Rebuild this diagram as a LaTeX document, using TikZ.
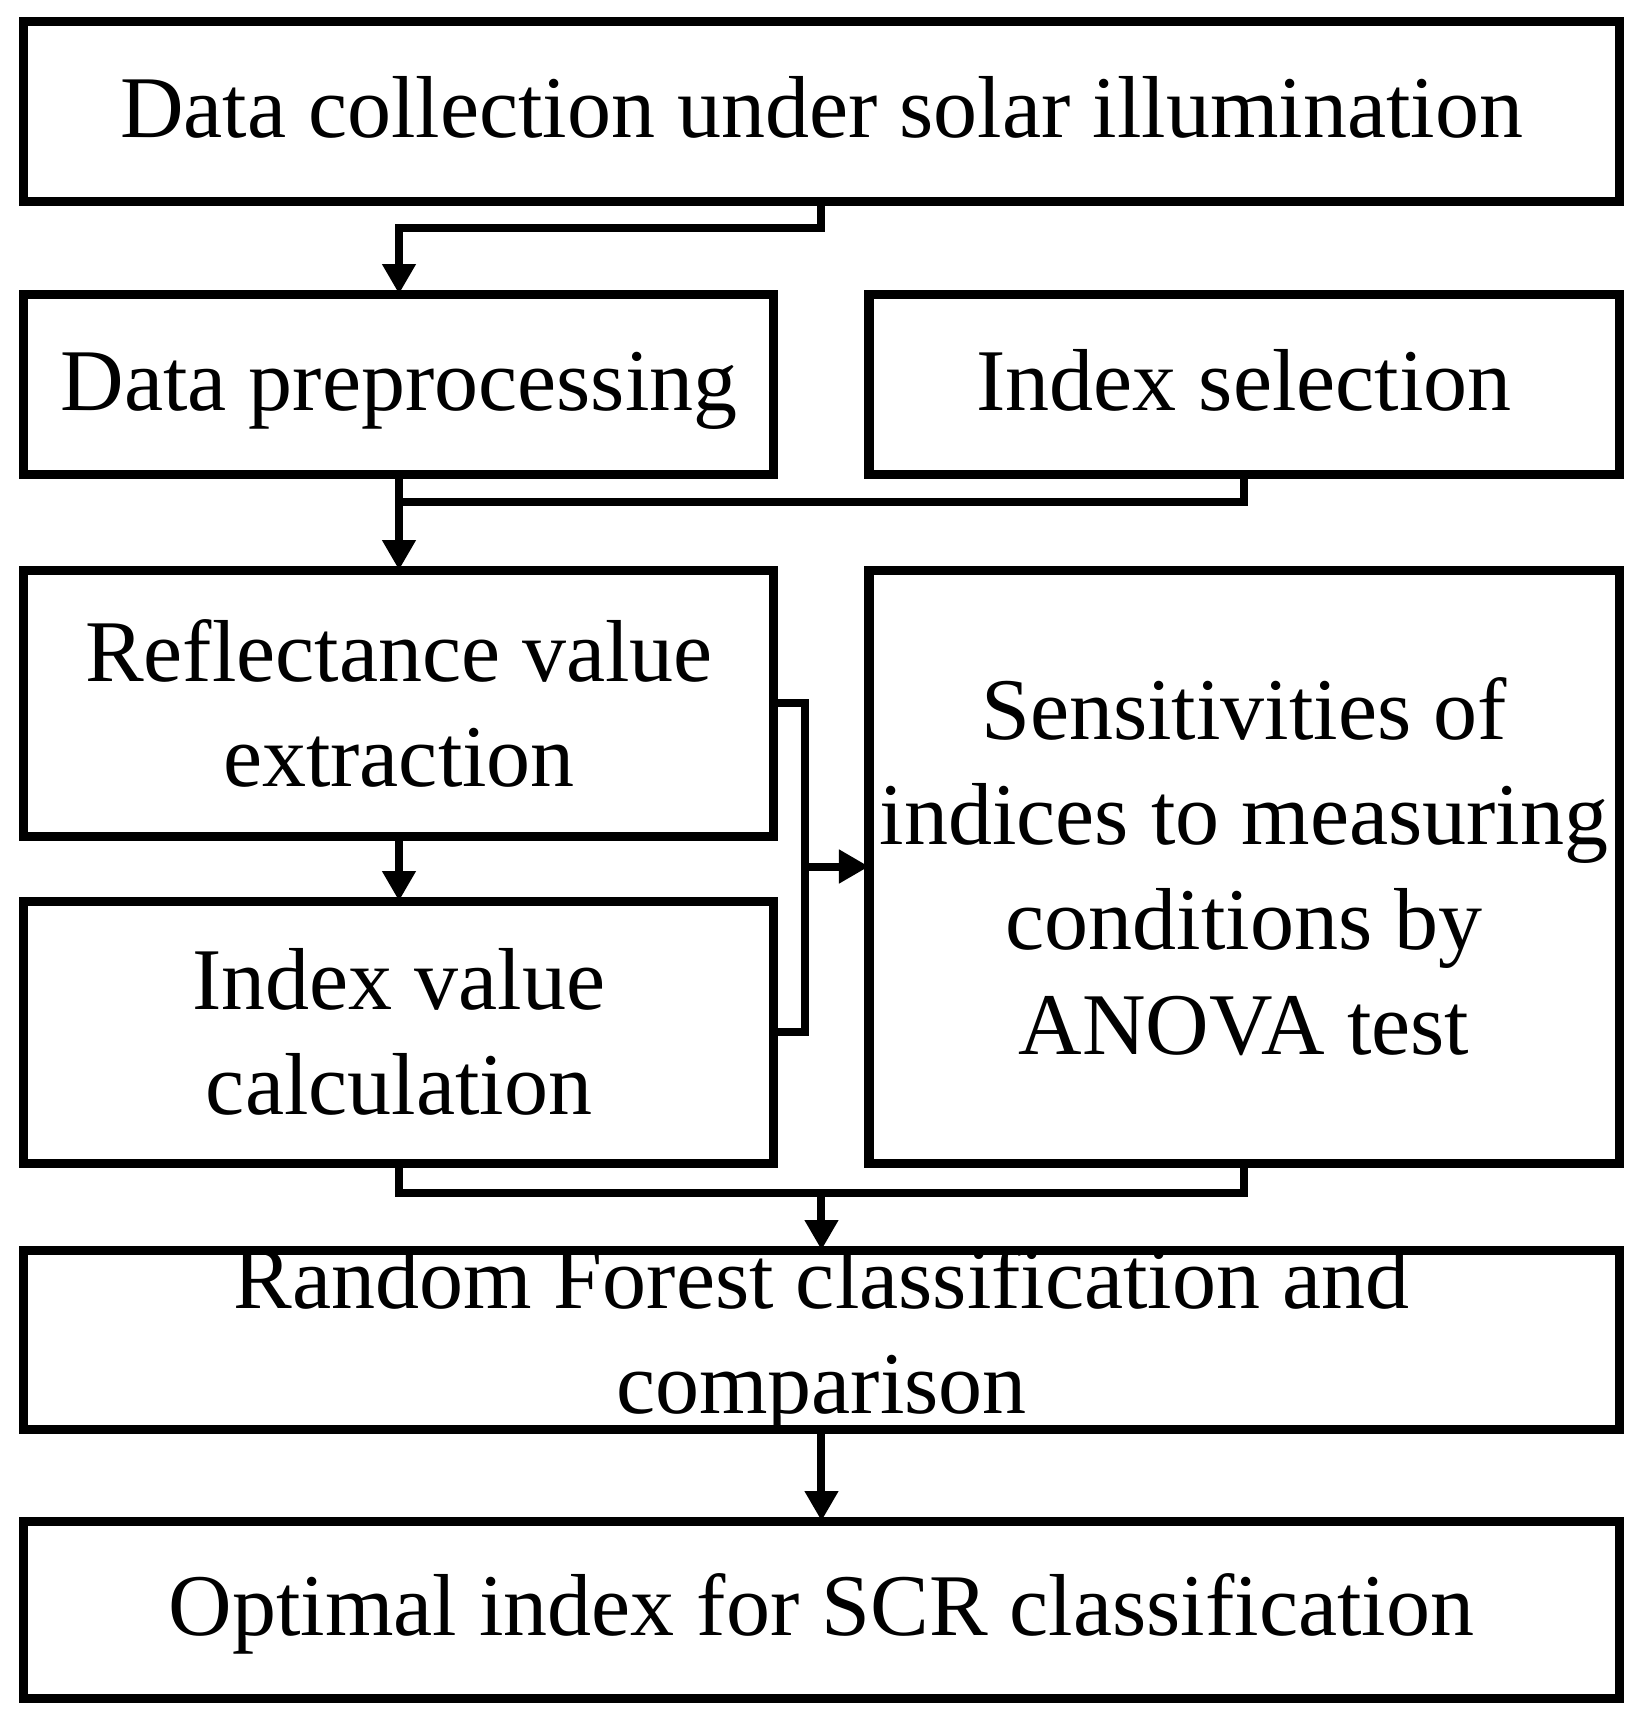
\documentclass[tikz,border=0pt]{standalone}
\usepackage{fontspec}
\setmainfont{Liberation Serif}
\usetikzlibrary{arrows.meta,positioning}
\tikzset{
	%Define standard arrow tip
	>={Triangle[width=16pt,length=15pt]},
	%Define style for boxes
	stage/.style={
		rectangle,
		draw=black, line width=4.5pt,
		outer sep=0pt, inner sep=0pt,
		minimum width=797.5pt,
		minimum height=89.5pt,
		align=center,
		font=\fontsize{44}{52.5}\selectfont},
	half/.style={
		stage,
		minimum width=375pt,
		minimum height=90pt},
	% one line of text, same baseline with or without descenders
	oneline/.style={
		text height=30.5pt,
		text depth=4.5pt},
	% Define line styles
	link/.style={
		line width=4pt},
	pil/.style={
		link,
		->}
}
\begin{document}
\begin{tikzpicture}
		%nodes
		\node[stage, oneline] (collect) {Data collection under solar illumination};
		\node[half, oneline, below right=46.5pt and 0pt of collect.south west] (prep) {Data preprocessing};
		\node[half, oneline, right=47.5pt of prep] (select) {Index selection};
		\node[half, minimum height=133pt, below=48pt of prep] (reflect) {Reflectance value\\extraction};
		\node[half, minimum height=131pt, below=32.5pt of reflect] (calc) {Index value\\calculation};
		\node[half, minimum height=296.5pt, below=48pt of select] (sens)
		{Sensitivities of\\indices to measuring\\conditions by\\ANOVA test};
		\node[stage, below right=43.5pt and 0pt of calc.south west] (rf) {};
		% text is taller than its box
		\node[font=\fontsize{44}{52.5}\selectfont, align=center, inner sep=0pt] (rftext) at (rf)
		{Random Forest classification and\\comparison};
		\node[stage, oneline, minimum height=88.5pt, below=46pt of rf] (opt) {Optimal index for SCR classification};
		% connectors
		\draw[pil] (collect.south) -- ++(0,-13.5pt) -| (prep.north);
		\draw[pil] (prep.south) -- (reflect.north);
		\draw[link] (select.south) -- ++(0,-14pt) -| (prep.south);
		\draw[pil] (reflect.south) -- (calc.north);
		\coordinate[right=15.5pt of reflect.east] (bk);
		\draw[link] (reflect.east) -- (bk) |- (calc.east);
		\draw[pil] (bk |- sens.west) -- (sens.west);
		\coordinate[below=15pt of calc.south] (jn);
		\draw[link] (calc.south) -- (jn) -| (sens.south);
		\draw[pil] (jn -| rf.north) -- (rf.north);
		\draw[pil] (rf.south) -- (opt.north);
		\path[use as bounding box] ([shift={(-12pt,11pt)}]collect.north west) rectangle ([shift={(13pt,-15.5pt)}]opt.south east);
\end{tikzpicture}
\end{document}
